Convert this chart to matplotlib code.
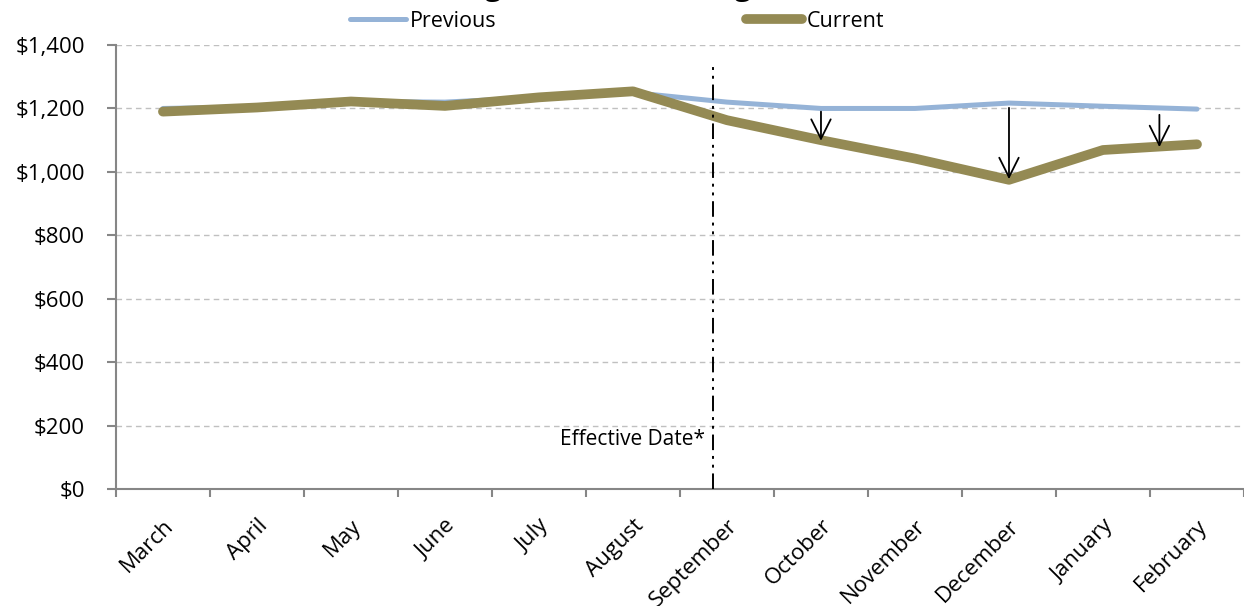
import numpy as np
import matplotlib.pyplot as plt
from matplotlib.ticker import FuncFormatter, FixedLocator

plt.rcParams['font.family'] = ['Open Sans', 'DejaVu Sans']

months = ['March', 'April', 'May', 'June', 'July', 'August', 'September',
          'October', 'November', 'December', 'January', 'February']
previous = [1200, 1205, 1222, 1220, 1235, 1250, 1220, 1200, 1200, 1217, 1207, 1198]
current = [1190, 1203, 1222, 1208, 1235, 1254, 1163, 1100, 1042, 975, 1069, 1087]

# drop arrows: (x position, from, to)
arrows = [(7.0, 1190, 1098), (9.0, 1202, 977), (10.6, 1180, 1078)]
effective_x = 5.85

fig = plt.figure(figsize=(12.44, 6.06), dpi=100)
ax = fig.add_axes([0.0932, 0.193, 0.9068, 0.7327])

x = np.arange(len(months))
ax.plot(x, previous, color='#95b3d7', lw=3.6, solid_capstyle='round',
        solid_joinstyle='round', label='Previous', zorder=3)
ax.plot(x, current, color='#948a54', lw=7, solid_capstyle='round',
        solid_joinstyle='round', label='Current', zorder=4)

for xa, y0, y1 in arrows:
    ax.annotate('', xy=(xa, y1), xytext=(xa, y0),
                arrowprops=dict(arrowstyle='->,head_length=0.5,head_width=0.25',
                                lw=1.3, color='black', mutation_scale=28,
                                shrinkA=0, shrinkB=0),
                zorder=5)

ax.plot([effective_x, effective_x], [0, 1348], color='black', lw=1.4,
        linestyle=(0, (8, 3, 1.5, 3, 1.5, 3)), zorder=5)
ax.text(effective_x - 0.08, 155, 'Effective Date*', ha='right', va='center',
        fontsize=15)

ax.set_xlim(-0.5, len(months) - 0.5)
ax.set_ylim(0, 1400)
ax.set_yticks(np.arange(0, 1401, 200))
ax.yaxis.set_major_formatter(FuncFormatter(lambda v, p: '${:,.0f}'.format(v)))
ax.grid(axis='y', color='#c0c0c0', linestyle=(0, (4, 3)), lw=1)
ax.set_axisbelow(True)

ax.set_xticks(x)
ax.set_xticklabels(months, rotation=45, ha='right', va='top',
                   rotation_mode='anchor', fontsize=16)
ax.xaxis.set_minor_locator(FixedLocator(np.arange(-0.5, len(months), 1)))
ax.tick_params(axis='x', which='major', length=0, pad=19)
ax.tick_params(axis='x', which='minor', length=6, width=1.5, color='#868686')
ax.tick_params(axis='y', length=6.5, width=1.5, color='#868686', labelsize=16, pad=16)

for side in ['top', 'right']:
    ax.spines[side].set_visible(False)
for side in ['left', 'bottom']:
    ax.spines[side].set_color('#868686')
    ax.spines[side].set_linewidth(1.5)

fig.text(0.47, 1.008, 'Average Total Bill Change', ha='center',
         va='baseline', fontsize=21, fontweight='bold')

fig.legend(loc='center', bbox_to_anchor=(0.496, 0.965), ncol=2, frameon=False,
           fontsize=15.5, handlelength=2.6, handletextpad=0.2, columnspacing=11.6,
           borderpad=0)

fig.savefig('out.png', dpi=100)
